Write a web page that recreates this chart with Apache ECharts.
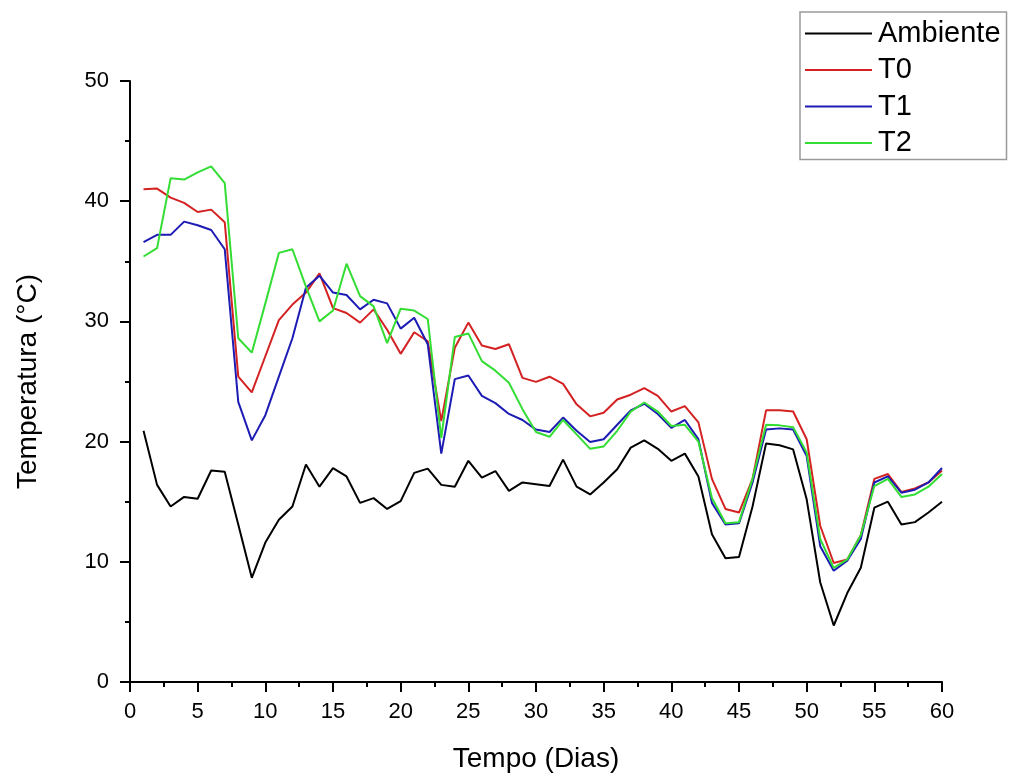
<!DOCTYPE html>
<html><head><meta charset="utf-8">
<script src="https://cdn.jsdelivr.net/npm/echarts@6/dist/echarts.min.js"></script>
<style>html,body{margin:0;padding:0;background:#fff}#c{width:1011px;height:778px}</style>
</head><body><div id="c"></div>
<script>
const days = [1,2,3,4,5,6,7,8,9,10,11,12,13,14,15,16,17,18,19,20,21,22,23,24,25,26,27,28,29,30,31,32,33,34,35,36,37,38,39,40,41,42,43,44,45,46,47,48,49,50,51,52,53,54,55,56,57,58,59,60];
const ambiente = [20.9,16.4,14.6,15.4,15.25,17.6,17.5,13.1,8.67,11.6,13.5,14.6,18.1,16.25,17.8,17.1,14.9,15.3,14.4,15.05,17.4,17.75,16.4,16.25,18.4,17.0,17.55,15.9,16.6,16.45,16.3,18.5,16.25,15.6,16.6,17.7,19.5,20.1,19.4,18.4,19.0,17.1,12.3,10.3,10.4,14.6,19.85,19.7,19.35,15.2,8.3,4.7,7.4,9.5,14.5,15.0,13.1,13.3,14.1,15.0];
const t0 = [41.0,41.05,40.3,39.86,39.1,39.3,38.25,25.4,24.1,27.1,30.1,31.4,32.4,34.0,31.1,30.7,29.9,31.0,29.3,27.3,29.1,28.35,21.7,27.8,29.9,28.0,27.7,28.1,25.3,24.97,25.4,24.8,23.1,22.1,22.4,23.5,23.9,24.45,23.8,22.5,22.95,21.6,16.9,14.4,14.1,16.9,22.6,22.6,22.5,20.2,13.0,9.9,10.2,12.2,16.9,17.3,15.8,16.1,16.6,17.6];
const t1 = [36.6,37.2,37.2,38.3,38.0,37.6,36.0,23.3,20.1,22.2,25.4,28.6,32.8,33.8,32.4,32.2,31.0,31.8,31.5,29.4,30.3,28.1,19.0,25.2,25.5,23.8,23.2,22.3,21.8,21.0,20.8,22.0,20.9,19.96,20.2,21.4,22.6,23.15,22.3,21.15,21.8,20.2,14.9,13.1,13.2,16.6,21.0,21.1,21.0,18.8,11.3,9.25,10.1,11.9,16.6,17.1,15.75,16.0,16.6,17.8];
const t2 = [35.4,36.1,41.9,41.8,42.4,42.9,41.5,28.6,27.4,31.5,35.7,36.0,32.9,30.0,30.9,34.8,32.1,31.25,28.2,31.06,30.9,30.2,20.3,28.7,29.0,26.7,25.9,24.9,22.7,20.8,20.4,21.8,20.6,19.4,19.6,20.9,22.5,23.25,22.5,21.3,21.4,20.0,15.3,13.2,13.3,16.9,21.4,21.35,21.2,19.1,11.9,9.5,10.2,12.2,16.3,16.9,15.4,15.6,16.25,17.3];
const seriesNames = ['Ambiente','T0','T1','T2'];
const seriesColors = ['#000000','#d42222','#1c1cb4','#33dd33'];
const seriesData = [ambiente,t0,t1,t2];

const font = 'Liberation Sans, Arial, sans-serif';
const chart = echarts.init(document.getElementById('c'), null, {renderer:'canvas'});
chart.setOption({
  backgroundColor:'#ffffff',
  animation:false,
  grid:{left:130,right:69,top:81,bottom:95,containLabel:false},
  legend:{
    orient:'vertical', left:800, top:12,
    data:seriesNames,
    icon:'rect', itemWidth:67, itemHeight:2, itemGap:7.5,
    borderColor:'#9a9a9a', borderWidth:1.5, borderRadius:0,
    padding:[7,6,2,5],
    textStyle:{fontFamily:font, fontSize:29, lineHeight:28, color:'#000', padding:[0,0,0,1]}
  },
  xAxis:{
    type:'value', min:0, max:60, interval:5,
    name:'Tempo (Dias)', nameLocation:'middle', nameGap:63,
    nameTextStyle:{fontFamily:font, fontSize:28, color:'#000'},
    axisLine:{lineStyle:{color:'#000', width:2}},
    axisTick:{show:true, inside:false, length:10, lineStyle:{color:'#000', width:2}},
    minorTick:{show:true, splitNumber:2, length:5, lineStyle:{color:'#000', width:2}},
    axisLabel:{fontFamily:font, fontSize:22, color:'#000', margin:19},
    splitLine:{show:false}
  },
  yAxis:{
    type:'value', min:0, max:50, interval:10,
    name:'Temperatura (°C)', nameLocation:'middle', nameGap:88, nameRotate:90,
    nameTextStyle:{fontFamily:font, fontSize:28, color:'#000'},
    axisLine:{show:true, lineStyle:{color:'#000', width:2}},
    axisTick:{show:true, inside:false, length:10, lineStyle:{color:'#000', width:2}},
    minorTick:{show:true, splitNumber:2, length:5, lineStyle:{color:'#000', width:2}},
    axisLabel:{fontFamily:font, fontSize:22, color:'#000', margin:21},
    splitLine:{show:false}
  },
  series: seriesNames.map((n,i)=>({
    name:n, type:'line', showSymbol:false, symbol:'none',
    color:seriesColors[i],
    lineStyle:{color:seriesColors[i], width:2},
    data: days.map((d,j)=>[d, seriesData[i][j]]),
    z: i===0?2:3
  }))
});
</script></body></html>
